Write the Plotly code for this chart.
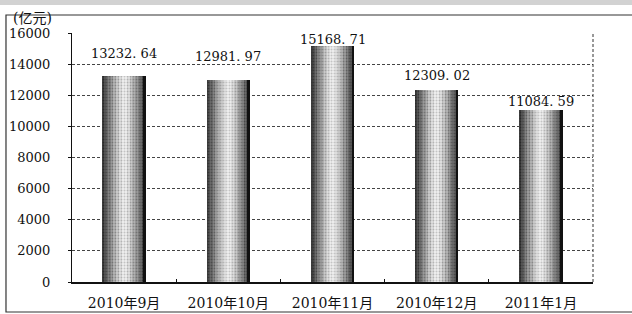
import plotly.graph_objects as go

# ---- data ----
months = ["2010年9月", "2010年10月", "2010年11月", "2010年12月", "2011年1月"]
values = [13232.64, 12981.97, 15168.71, 12309.02, 11084.59]
value_labels = ["13232. 64", "12981. 97", "15168. 71", "12309. 02", "11084. 59"]
y_ticks = [0, 2000, 4000, 6000, 8000, 10000, 12000, 14000, 16000]
y_tick_text = ["0", "2000", "4000", "6000", "8000", "10000", "12000", "14000", "16000"]

# ---- style ----
label_shift = [23, 23, 6, 15, 8]
FONT = "DejaVu Serif, Liberation Serif, Noto Sans CJK SC"
BAR_W = 0.415
layers = [  # (width fraction, base colour, dot colour)
    (1.00, "#404040", "#111111"),
    (0.92, "#555555", "#1a1a1a"),
    (0.83, "#6c6c6c", "#2a2a2a"),
    (0.73, "#848484", "#3a3a3a"),
    (0.62, "#9c9c9c", "#4a4a4a"),
    (0.50, "#b4b4b4", "#5c5c5c"),
    (0.38, "#cbcbcb", "#707070"),
    (0.25, "#e0e0e0", "#888888"),
    (0.12, "#eeeeee", "#9a9a9a"),
]

fig = go.Figure()
for frac, col, dot in layers:
    fig.add_trace(go.Bar(
        x=months, y=values, width=BAR_W * frac,
        marker=dict(color=col, line=dict(width=0),
                    pattern=dict(shape=".", fgcolor=dot, size=3, solidity=0.35)),
        hoverinfo="skip", showlegend=False))
# dark right edge of each cylinder
fig.add_trace(go.Bar(
    x=months, y=values, width=0.025, offset=BAR_W / 2 - 0.025,
    marker=dict(color="#111111", line=dict(width=0)),
    hoverinfo="skip", showlegend=False))

for m, v, t, s in zip(months, values, value_labels, label_shift):
    fig.add_annotation(x=m, y=v, text=t, showarrow=False, yanchor="middle",
                       yshift=s, xshift=0,
                       font=dict(family=FONT, size=13, color="#111111"))

# y-axis unit
fig.add_annotation(xref="paper", yref="paper", x=-0.075, y=1.062, text="(亿元)",
                   xanchor="center", yanchor="middle",
                   showarrow=False, font=dict(family=FONT, size=14, color="#111111"))

shapes = [
    # top grey band
    dict(type="rect", xref="paper", yref="paper", x0=-0.2, x1=1.3, y0=1.112, y1=1.2,
         fillcolor="#d2d2d2", line=dict(width=0), layer="below"),
    # outer frame
    dict(type="rect", xref="paper", yref="paper", x0=-0.1267, x1=1.3, y0=-0.1205, y1=1.0723,
         line=dict(color="#333333", width=1.2), layer="below"),
    # dashed right border of plot
    dict(type="line", xref="paper", yref="paper", x0=1, x1=1, y0=0, y1=1,
         line=dict(color="#333333", width=1, dash="3px,2px")),
]

fig.update_layout(
    width=632, height=314,
    margin=dict(l=72, r=39, t=33, b=32, pad=0),
    paper_bgcolor="white", plot_bgcolor="white",
    barmode="overlay", bargap=0,
    shapes=shapes,
    font=dict(family=FONT, size=13, color="#111111"),
)
fig.update_yaxes(range=[0, 16000], tickvals=y_ticks, ticktext=y_tick_text, showgrid=True,
                 gridcolor="#444444", griddash="3px,2px", gridwidth=1,
                 showline=True, linecolor="#111111", linewidth=1,
                 ticks="outside", ticklen=3, tickcolor="#111111",
                 ticklabelstandoff=15, zeroline=False, automargin=False,
                 tickfont=dict(family=FONT, size=13, color="#111111"))
fig.update_xaxes(showline=True, linecolor="#111111", linewidth=1.5,
                 ticks="inside", tickson="boundaries", ticklen=3, tickcolor="#111111",
                 ticklabelstandoff=7, automargin=False,
                 tickfont=dict(family=FONT, size=14, color="#111111"))

fig.write_html("out.html", config={"displayModeBar": False},
               post_script="document.body.style.margin='0';")
